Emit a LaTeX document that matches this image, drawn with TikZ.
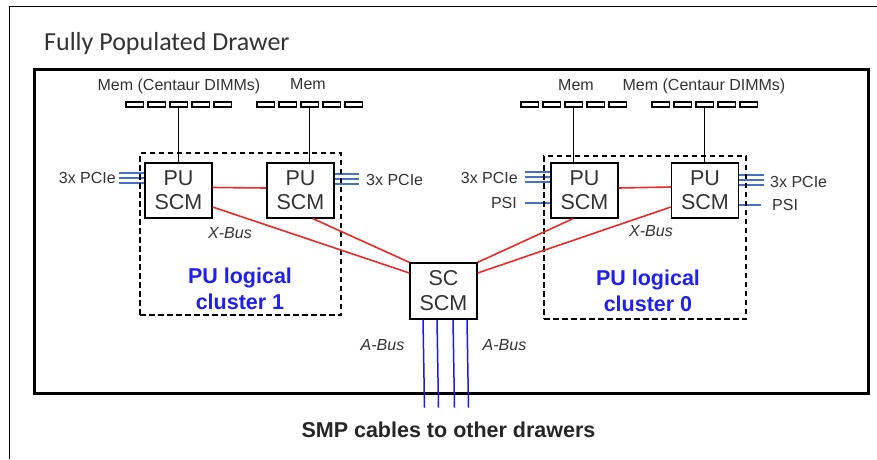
\documentclass[tikz,border=0pt]{standalone}
\usepackage{fontspec}
\setmainfont{Liberation Sans}
\newfontfamily\titlefont{Carlito}
\usetikzlibrary{calc}

\definecolor{txt}{HTML}{333333}
\definecolor{pciblue}{HTML}{4472C4}
\definecolor{busblue}{HTML}{1A1AF2}
\definecolor{clublue}{HTML}{2020EE}
\definecolor{xred}{HTML}{F02828}

\begin{document}
\begin{tikzpicture}[x=1pt,y=-1pt,
  scm/.style={draw=black, line width=1.3pt, fill=white, minimum width=67pt,
    minimum height=55pt, align=center, inner sep=0pt,
    font=\fontsize{21.5}{24}\selectfont, text=txt},
  cluster/.style={draw=black, line width=1.3pt, dash pattern=on 5.5pt off 3.5pt},
  dimm/.style={draw=black, line width=1.2pt, minimum width=17.5pt,
    minimum height=5pt, inner sep=0pt},
  lbl/.style={font=\fontsize{16}{18}\selectfont, text=txt, inner sep=0pt},
  buslbl/.style={font=\fontsize{16}{18}\selectfont\itshape, text=txt, inner sep=0pt},
  clulbl/.style={font=\fontsize{21.5}{26}\selectfont\bfseries, text=clublue,
    align=center, inner sep=0pt},
  wire/.style={draw=black, line width=1.2pt},
  xbus/.style={draw=xred, line width=1.6pt},
  pcie/.style={draw=pciblue, line width=1.3pt},
  abus/.style={draw=busblue, line width=1.5pt},
  frame/.style={draw=black, line width=3pt},
]
\useasboundingbox (0,0) rectangle (877,459);

% page edge and drawer outline
\draw[line width=1.5pt] (9.5,459) -- (9.5,6.5) -- (877,6.5);
\node[anchor=base west, inner sep=0pt, text=txt,
  font=\titlefont\fontsize{26}{30}\selectfont] (title) at (44,50) {Fully Populated Drawer};
\draw[frame] (34,69) rectangle (868,393);

% processor and system controller modules
\node[scm] (pu1) at (178.5,190.5) {PU\\SCM};
\node[scm] (pu2) at (300.5,190.5) {PU\\SCM};
\node[scm] (pu3) at (584.5,190.5) {PU\\SCM};
\node[scm] (pu4) at (705,190.5) {PU\\SCM};
\node[scm, minimum height=56pt, font=\fontsize{21.5}{25}\selectfont] (sc) at (443.5,291) {SC\\SCM};

% memory DIMM rows
\foreach \g/\gx in {1/126,2/257,3/521,4/652}{
  \foreach \k in {1,...,5}{
    \node[dimm] (d\g-\k) at ({\gx+8.75+22*(\k-1)},104.5) {};
  }
}
\node[lbl] (m1) at (179,86) {Mem (Centaur DIMMs)};
\node[lbl] (m2) at (308,84) {Mem};
\node[lbl] (m3) at (576,85) {Mem};
\node[lbl] (m4) at (704,86) {Mem (Centaur DIMMs)};

\draw[wire] (d1-3.south) -- (d1-3.south |- pu1.north);
\draw[wire] (d2-3.south) -- (d2-3.south |- pu2.north);
\draw[wire] (d3-3.south) -- (d3-3.south |- pu3.north);
\draw[wire] (d4-3.south) -- (d4-3.south |- pu4.north);

% PCIe and PSI stubs
\node[lbl, anchor=east] (pc1) at (116,178) {3x PCIe};
\foreach \d in {17.5,12.5,7.5}
  \draw[pcie] ([yshift=\d pt]pu1.west) -- ++(-25,0);
\node[lbl, anchor=west] (pc2) at (366,180) {3x PCIe};
\foreach \d in {16.5,11.5,6.5}
  \draw[pcie] ([yshift=\d pt]pu2.east) -- ++(24,0);
\node[lbl, anchor=east] (pc3) at (518,178) {3x PCIe};
\foreach \d in {18.5,13.5,8.5}
  \draw[pcie] ([yshift=\d pt]pu3.west) -- ++(-25,0);
\node[lbl, anchor=east] (psi3) at (517,203) {PSI};
\draw[pcie] ([yshift=-12.5pt]pu3.west) -- ++(-25,0);
\node[lbl, anchor=west] (pc4) at (770,182) {3x PCIe};
\foreach \d in {15.5,10.5,5.5}
  \draw[pcie] ([yshift=\d pt]pu4.east) -- ++(25,0);
\node[lbl, anchor=west] (psi4) at (772,205) {PSI};
\draw[pcie] ([yshift=-14.5pt]pu4.east) -- ++(22,0);

% logical clusters
\node[cluster, minimum width=201pt, minimum height=162pt] (cl1) at (240.5,234) {};
\node[cluster, minimum width=202pt, minimum height=163pt] (cl0) at (645,237.5) {};
\node[clulbl] (cl1t) at (240,289) {PU logical\\cluster 1};
\node[clulbl] (cl0t) at (648,291) {PU logical\\cluster 0};

% X-Bus links
\draw[xbus] ([yshift=3pt]pu1.east) -- ([yshift=2.5pt]pu2.west);
\draw[xbus] ([yshift=-16.5pt]pu1.east) -- ([yshift=18pt]sc.west);
\draw[xbus] ([xshift=12.5pt]pu2.south) -- (sc.north west);
\draw[xbus] ([yshift=2.5pt]pu3.east) -- ([yshift=3.5pt]pu4.west);
\draw[xbus] ([xshift=-11.5pt]pu3.south) -- (sc.north east);
\draw[xbus] ([yshift=-16.5pt]pu4.west) -- ([yshift=18pt]sc.east);
\node[buslbl] (xb1) at (230,233) {X-Bus};
\node[buslbl] (xb0) at (651,231) {X-Bus};

% A-Bus SMP cables
\foreach \dx in {-20.5,-6.5,9.5,23.5}
  \draw[abus] ([xshift=\dx pt]sc.south) -- ++(1.5,88);
\node[buslbl] (ab1) at (382.5,345) {A-Bus};
\node[buslbl] (ab2) at (504.5,345) {A-Bus};
\node[font=\fontsize{21.5}{24}\selectfont\bfseries, text=black!85, inner sep=0pt]
  (smp) at (448.5,430) {SMP cables to other drawers};
\end{tikzpicture}
\end{document}
